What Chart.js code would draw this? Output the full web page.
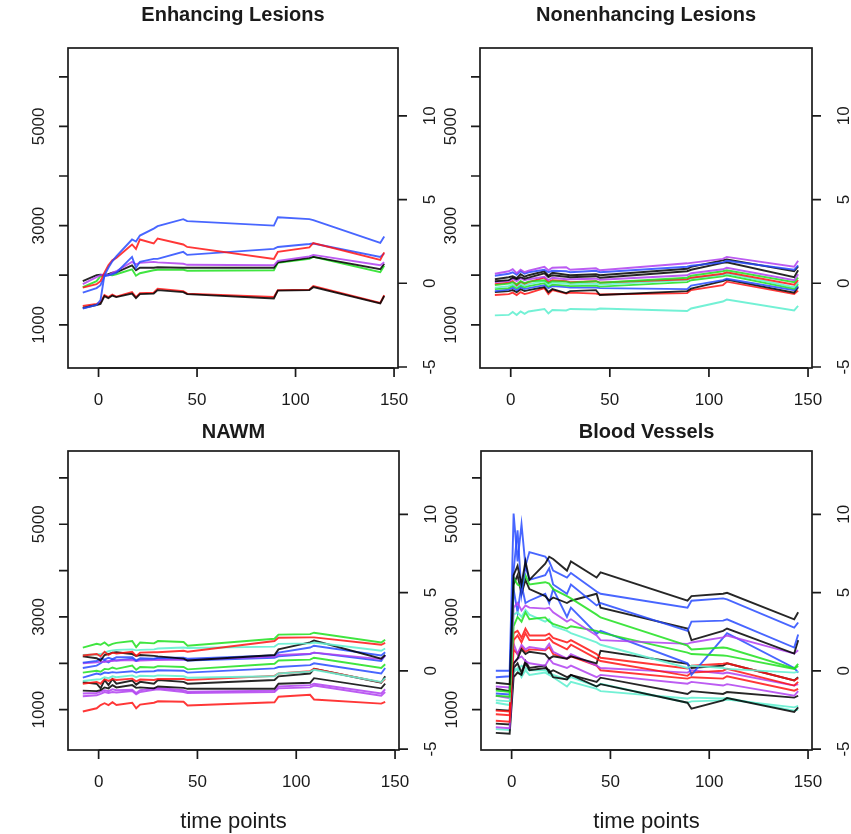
<!DOCTYPE html>
<html lang="en">
<head>
<meta charset="UTF-8">
<title>Signal intensity over time</title>
<script src="https://cdn.jsdelivr.net/npm/chart.js"></script>
<style>
  body { margin: 0; background: #fff; }
  .stage { position: relative; width: 851px; height: 834px; }
  .stage canvas { position: absolute; left: 0; top: 0; }
</style>
</head>
<body>
<div class="stage">
  <canvas id="enh" width="851" height="834"></canvas>
  <canvas id="nonenh" width="851" height="834"></canvas>
  <canvas id="nawm" width="851" height="834"></canvas>
  <canvas id="vessels" width="851" height="834"></canvas>
</div>
<script>
// acquisition times shared by every curve
const timePoints = [-8, -1, 1, 3, 5, 7, 9, 17, 19, 21, 28, 30, 43, 45, 89, 91, 107, 109, 143, 145];

const xTicks = [0, 50, 100, 150];
const leftTicks = [1000, 2000, 3000, 4000, 5000, 6000];
const leftLabels = [1000, 3000, 5000];
const rightTicks = [-5, 0, 5, 10];

const palette = {
  black: 'rgba(0,0,0,0.85)',
  red: 'rgba(255,20,20,0.85)',
  green: 'rgba(30,225,30,0.85)',
  blue: 'rgba(40,75,255,0.85)',
  purple: 'rgba(176,64,240,0.85)',
  cyan: 'rgba(100,240,208,0.9)'
};

// Enhancing lesions
const enhColors = ['blue', 'red', 'blue', 'purple', 'black', 'green', 'black', 'red'];
const enhValues = [
  [1330, 1400, 1500, 2000, 2150, 2280, 2380, 2720, 2680, 2800, 2940, 2990, 3130, 3090, 3000, 3170, 3130, 3110, 2650, 2780],
  [1750, 1820, 1880, 2050, 2200, 2300, 2350, 2620, 2530, 2720, 2640, 2740, 2620, 2570, 2330, 2470, 2560, 2650, 2310, 2460],
  [1650, 1740, 1800, 1980, 2000, 2020, 2050, 2370, 2150, 2270, 2330, 2330, 2470, 2410, 2530, 2570, 2630, 2640, 2370, 2440],
  [1820, 1960, 2000, 2020, 2000, 2050, 2080, 2270, 2220, 2250, 2270, 2260, 2230, 2210, 2200, 2290, 2380, 2410, 2200, 2260],
  [1880, 2000, 2010, 2000, 2020, 2050, 2060, 2200, 2100, 2150, 2150, 2160, 2150, 2150, 2150, 2260, 2350, 2370, 2120, 2230],
  [1760, 1880, 1980, 2000, 2010, 2000, 2020, 2120, 1990, 2040, 2100, 2110, 2110, 2090, 2100, 2250, 2330, 2370, 2060, 2190],
  [1340, 1400, 1420, 1580, 1540, 1590, 1560, 1630, 1540, 1620, 1630, 1700, 1660, 1620, 1530, 1690, 1700, 1760, 1430, 1580],
  [1380, 1420, 1450, 1600, 1560, 1610, 1570, 1660, 1560, 1640, 1650, 1730, 1680, 1630, 1560, 1700, 1710, 1780, 1440, 1600]
];

// Nonenhancing lesions
const nonColors = ['purple', 'blue', 'black', 'black', 'purple', 'green', 'red', 'cyan', 'green', 'blue', 'black', 'red', 'cyan'];
const nonValues = [
  [2030, 2080, 2120, 2040, 2110, 2060, 2090, 2170, 2100, 2150, 2160, 2110, 2140, 2100, 2240, 2250, 2330, 2370, 2170, 2290],
  [1990, 2030, 2060, 2010, 2080, 2030, 2060, 2110, 2060, 2090, 2080, 2060, 2090, 2060, 2170, 2190, 2260, 2290, 2110, 2200],
  [1920, 1960, 1980, 1940, 2020, 1970, 2000, 2080, 1990, 2050, 2010, 2000, 2020, 2000, 2130, 2170, 2300, 2320, 2080, 2180],
  [1880, 1900, 1950, 1920, 1960, 1930, 1950, 2040, 1960, 2000, 1970, 1960, 1980, 1950, 2080, 2110, 2250, 2260, 1960, 2100],
  [1860, 1880, 1930, 1880, 1940, 1900, 1920, 1970, 1900, 1950, 1920, 1920, 1930, 1910, 2000, 2040, 2120, 2150, 1900, 2020],
  [1800, 1830, 1860, 1820, 1880, 1840, 1870, 1900, 1840, 1880, 1870, 1850, 1880, 1850, 1950, 1990, 2080, 2100, 1860, 1950],
  [1820, 1850, 1880, 1800, 1870, 1830, 1860, 1950, 1860, 1900, 1880, 1860, 1880, 1850, 1920, 1950, 2030, 2060, 1810, 1900],
  [1750, 1780, 1820, 1770, 1830, 1790, 1820, 1880, 1800, 1850, 1830, 1820, 1830, 1810, 1900, 1940, 2010, 2040, 1760, 1860],
  [1720, 1740, 1790, 1740, 1790, 1760, 1780, 1840, 1770, 1810, 1790, 1780, 1790, 1770, 1860, 1900, 1980, 2000, 1730, 1820],
  [1680, 1710, 1750, 1700, 1760, 1720, 1740, 1800, 1740, 1780, 1760, 1750, 1750, 1740, 1720, 1790, 1900, 1930, 1700, 1780],
  [1660, 1680, 1700, 1660, 1720, 1680, 1700, 1760, 1660, 1720, 1640, 1680, 1700, 1600, 1680, 1730, 1880, 1910, 1650, 1760],
  [1600, 1620, 1650, 1600, 1660, 1620, 1640, 1740, 1620, 1700, 1630, 1650, 1630, 1610, 1640, 1700, 1800, 1870, 1620, 1690],
  [1190, 1200, 1260, 1200, 1270, 1220, 1270, 1320, 1230, 1300, 1290, 1320, 1310, 1330, 1280, 1330, 1470, 1510, 1290, 1380]
];

// Normal-appearing white matter
const nawmColors = ['green', 'red', 'cyan', 'black', 'blue', 'purple', 'blue', 'green', 'blue', 'cyan', 'red', 'black', 'black', 'purple', 'purple', 'red'];
const nawmValues = [
  [2340, 2420, 2400, 2450, 2380, 2420, 2440, 2480, 2350, 2450, 2430, 2480, 2460, 2380, 2530, 2620, 2630, 2660, 2450, 2510],
  [2170, 2200, 2150, 2250, 2180, 2230, 2210, 2250, 2160, 2230, 2240, 2240, 2270, 2250, 2480, 2550, 2560, 2560, 2400, 2440],
  [2180, 2190, 2200, 2230, 2260, 2280, 2290, 2300, 2280, 2290, 2300, 2320, 2340, 2330, 2360, 2420, 2430, 2450, 2270, 2320],
  [2150, 2110, 2060, 2180, 2200, 2230, 2240, 2200, 2160, 2180, 2160, 2150, 2100, 2060, 2180, 2300, 2450, 2490, 2100, 2180],
  [2015, 2050, 2110, 2080, 2120, 2090, 2130, 2130, 2060, 2110, 2100, 2120, 2120, 2100, 2170, 2230, 2340, 2380, 2170, 2240],
  [2000, 2020, 2040, 2030, 2050, 2050, 2060, 2070, 2050, 2060, 2070, 2070, 2080, 2080, 2140, 2180, 2210, 2230, 2090, 2160],
  [1900, 1950, 2000, 2060, 2020, 2080, 2060, 2100, 2050, 2080, 2090, 2100, 2080, 2060, 2120, 2150, 2200, 2230, 2050, 2180],
  [1800, 1840, 1820, 1880, 1870, 1910, 1880, 1950, 1860, 1920, 1910, 1940, 1920, 1870, 1990, 2060, 2080, 2120, 1900, 1980],
  [1690, 1780, 1760, 1800, 1790, 1810, 1800, 1830, 1800, 1820, 1830, 1850, 1840, 1800, 1890, 1920, 1960, 2000, 1780, 1900],
  [1620, 1650, 1660, 1700, 1680, 1720, 1700, 1740, 1700, 1730, 1720, 1740, 1720, 1690, 1720, 1780, 1820, 1860, 1600, 1680],
  [1560, 1600, 1560, 1660, 1620, 1660, 1640, 1670, 1610, 1650, 1640, 1660, 1660, 1640, 1730, 1780, 1830, 1880, 1590, 1660],
  [1590, 1560, 1460, 1640, 1530, 1660, 1560, 1630, 1540, 1600, 1560, 1640, 1600, 1560, 1640, 1720, 1780, 1880, 1580, 1720],
  [1410, 1400, 1420, 1480, 1460, 1530, 1480, 1530, 1470, 1480, 1460, 1500, 1470, 1450, 1450, 1560, 1580, 1680, 1460, 1560],
  [1350, 1360, 1390, 1420, 1400, 1440, 1420, 1430, 1360, 1420, 1460, 1470, 1420, 1390, 1410, 1500, 1530, 1560, 1350, 1440],
  [1290, 1310, 1340, 1380, 1360, 1380, 1370, 1400, 1330, 1380, 1430, 1440, 1380, 1360, 1380, 1460, 1480, 1520, 1300, 1380],
  [960, 1030, 1100, 1140, 1100, 1160, 1100, 1150, 1030, 1110, 1150, 1180, 1170, 1090, 1160, 1280, 1320, 1220, 1130, 1170]
];

// Blood vessels
const bvColors = ['black', 'blue', 'blue', 'green', 'black', 'purple', 'green', 'cyan', 'blue', 'red', 'red', 'black', 'purple', 'red', 'purple', 'black', 'black', 'cyan', 'cyan'];
const bvValues = [
  [1580, 1550, 3900, 4100, 3700, 4200, 3800, 4150, 4300, 4250, 4000, 4200, 3850, 3960, 3350, 3450, 3500, 3520, 2950, 3100],
  [1840, 1840, 5230, 4200, 5000, 4100, 4400, 4300, 4200, 4000, 3850, 3950, 3550, 3500, 3200, 3350, 3400, 3380, 2770, 2880],
  [1700, 1720, 4000, 4870, 3500, 4100, 3800, 3900, 4050, 3700, 3500, 3700, 3250, 3300, 2700, 2900, 2920, 2950, 2340, 2620],
  [1410, 1380, 3850, 3700, 3650, 3900, 3700, 3750, 3720, 3600, 3450, 3400, 3050, 2990, 2380, 2300, 2340, 2330, 1890, 1990],
  [1450, 1400, 3700, 3900, 3500, 3800, 3600, 3450, 3350, 3420, 3300, 3350, 3500, 3200, 2750, 2500, 2700, 2750, 2210, 2500],
  [1500, 1480, 3200, 3300, 3140, 3250, 3200, 3180, 3200, 3100, 2900, 2950, 2600, 2500, 2420, 2450, 2560, 2600, 2210, 2280],
  [1300, 1280, 2800, 3000, 2900, 3100, 2950, 2990, 2900, 2850, 2750, 2800, 2700, 2660, 2230, 2200, 2170, 2160, 1880, 1940],
  [1200, 1180, 3050, 3100, 3000, 3150, 3050, 2900, 2950, 2800, 2700, 2650, 2450, 2400, 1900, 1950, 1900, 1880, 1800, 1820],
  [1350, 1330, 3600, 3100, 3700, 3300, 3350, 3500, 3300, 3600, 3000, 3200, 2640, 2700, 2000, 1750, 2550, 2650, 1900, 1800],
  [980, 960, 2650, 2700, 2550, 2750, 2600, 2600, 2640, 2550, 2450, 2500, 2200, 2120, 1890, 1950, 1990, 2000, 1630, 1680],
  [900, 880, 2500, 2600, 2450, 2650, 2500, 2500, 2550, 2450, 2300, 2400, 2100, 2050, 1730, 1800, 1840, 1880, 1520, 1600],
  [1000, 980, 2000, 2100, 2300, 2200, 2250, 2200, 2100, 2150, 2100, 2150, 2000, 2270, 1990, 1900, 1950, 2000, 1630, 1700],
  [1300, 1250, 2420, 2200, 2400, 2300, 2350, 2300, 2420, 2250, 2100, 2200, 1950, 1900, 1800, 1850, 1780, 1800, 1520, 1550],
  [760, 740, 2300, 2200, 2350, 2250, 2300, 2280, 2350, 2200, 2100, 2150, 1950, 1850, 1670, 1700, 1670, 1720, 1410, 1450],
  [620, 600, 2000, 2100, 2150, 2050, 2000, 1950, 2100, 2000, 1900, 1950, 1700, 1750, 1560, 1600, 1520, 1550, 1300, 1400],
  [700, 680, 1900, 2000, 1800, 2050, 1900, 1950, 1800, 1850, 1700, 1750, 1600, 1690, 1340, 1400, 1340, 1380, 1260, 1300],
  [500, 480, 1700, 1800, 1750, 2000, 1850, 1900, 1850, 1700, 1650, 1750, 1500, 1550, 1150, 1020, 1200, 1250, 950, 1050],
  [580, 560, 1800, 1900, 1700, 1850, 1750, 1800, 1750, 1700, 1500, 1600, 1450, 1400, 1240, 1260, 1240, 1250, 980, 1000],
  [1150, 1100, 1900, 1850, 1950, 1900, 1850, 1850, 1800, 1750, 1650, 1700, 1500, 1560, 1150, 1180, 1200, 1220, 1050, 1080]
];

const FONT = "'Liberation Sans', Arial, Helvetica, sans-serif";
const INK = '#1a1a1a';

// base-graphics style frame, axes and titles
const rAxes = {
  id: 'rAxes',
  afterDraw(chart, args, opts) {
    const { ctx, chartArea: a, scales } = chart;
    const { x, y, y2 } = scales;
    ctx.save();
    ctx.strokeStyle = INK;
    ctx.fillStyle = INK;
    ctx.lineWidth = 1.7;
    ctx.strokeRect(a.left, a.top, a.right - a.left, a.bottom - a.top);

    const tick = 9;
    ctx.font = `17px ${FONT}`;
    ctx.textAlign = 'center';
    ctx.textBaseline = 'middle';

    // bottom axis
    ctx.beginPath();
    ctx.moveTo(x.getPixelForValue(xTicks[0]), a.bottom);
    ctx.lineTo(x.getPixelForValue(xTicks[xTicks.length - 1]), a.bottom);
    xTicks.forEach(v => {
      const px = x.getPixelForValue(v);
      ctx.moveTo(px, a.bottom);
      ctx.lineTo(px, a.bottom + tick);
    });
    ctx.stroke();
    xTicks.forEach(v => ctx.fillText(String(v), x.getPixelForValue(v), a.bottom + 32));

    // left axis
    ctx.beginPath();
    leftTicks.forEach(v => {
      const py = y.getPixelForValue(v);
      ctx.moveTo(a.left, py);
      ctx.lineTo(a.left - tick, py);
    });
    ctx.stroke();
    leftLabels.forEach(v => rotated(ctx, String(v), a.left - 29, y.getPixelForValue(v)));

    // right axis
    ctx.beginPath();
    rightTicks.forEach(v => {
      const py = y2.getPixelForValue(v);
      ctx.moveTo(a.right, py);
      ctx.lineTo(a.right + tick, py);
    });
    ctx.stroke();
    rightTicks.forEach(v => rotated(ctx, String(v), a.right + 32, y2.getPixelForValue(v)));

    // titles
    const cx = (a.left + a.right) / 2;
    ctx.font = `bold 20px ${FONT}`;
    ctx.fillText(opts.title, cx, opts.titleY);
    if (opts.xTitle) {
      ctx.font = `22px ${FONT}`;
      ctx.fillText(opts.xTitle, cx, 822);
    }
    ctx.restore();
  }
};

function rotated(ctx, text, cx, cy) {
  ctx.save();
  ctx.translate(cx, cy);
  ctx.rotate(-Math.PI / 2);
  ctx.fillText(text, 0, 0);
  ctx.restore();
}

function panel(id, title, colors, values, box, titleY, xTitle) {
  new Chart(document.getElementById(id), {
    type: 'line',
    data: {
      datasets: values.map((row, i) => ({
        data: timePoints.map((t, j) => ({ x: t, y: row[j] })),
        borderColor: palette[colors[i]],
        borderWidth: 1.9,
        pointRadius: 0,
        tension: 0,
        fill: false
      }))
    },
    options: {
      responsive: false,
      animation: false,
      devicePixelRatio: 1,
      events: [],
      layout: {
        padding: { left: box[0], top: box[1], right: 851 - box[2], bottom: 834 - box[3] }
      },
      scales: {
        x: { type: 'linear', display: false, min: -15.5, max: 152 },
        y: { display: false, min: 130, max: 6580 },
        y2: { display: false, position: 'right', min: -5.06, max: 14.05 }
      },
      plugins: {
        legend: { display: false },
        tooltip: { enabled: false },
        rAxes: { title, titleY, xTitle }
      }
    },
    plugins: [rAxes]
  });
}

panel('enh', 'Enhancing Lesions', enhColors, enhValues, [68, 48, 398, 368], 15);
panel('nonenh', 'Nonenhancing Lesions', nonColors, nonValues, [480, 48, 812, 368], 15);
panel('nawm', 'NAWM', nawmColors, nawmValues, [68, 451, 399, 750], 432, 'time points');
panel('vessels', 'Blood Vessels', bvColors, bvValues, [481, 451, 812, 750], 432, 'time points');
</script>
</body>
</html>
